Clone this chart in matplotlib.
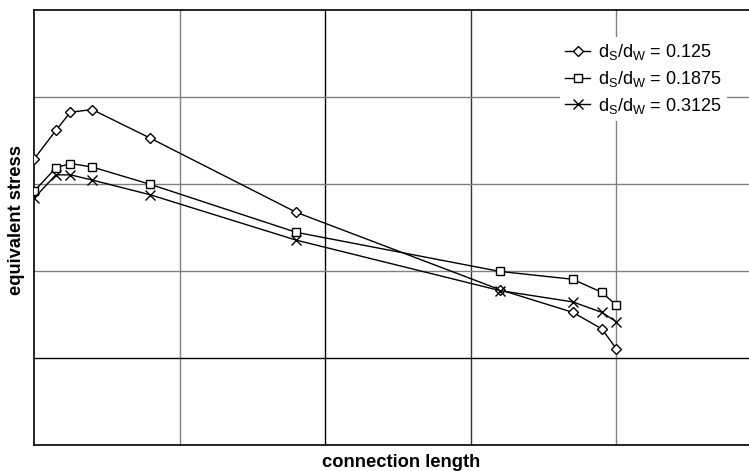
import matplotlib
matplotlib.use("Agg")
import matplotlib.pyplot as plt

plt.rcParams['font.family'] = ['Liberation Sans', 'DejaVu Sans']
plt.rcParams['mathtext.fontset'] = 'custom'
plt.rcParams['mathtext.rm'] = 'Liberation Sans'
plt.rcParams['mathtext.it'] = 'Liberation Sans'

# connection length (arbitrary units, grid every 1)
length = [0.0, 0.15, 0.25, 0.4, 0.8, 1.8, 3.2, 3.7, 3.9, 4.0]

# equivalent stress (arbitrary units)
stress_0125 = [3.28, 3.61, 3.82, 3.85, 3.52, 2.67, 1.78, 1.52, 1.33, 1.10]
stress_01875 = [2.91, 3.18, 3.23, 3.19, 2.99, 2.44, 1.99, 1.90, 1.75, 1.60]
stress_03125 = [2.83, 3.10, 3.10, 3.04, 2.87, 2.35, 1.77, 1.64, 1.52, 1.41]

labels = [r'd$_\mathrm{S}$/d$_\mathrm{W}$ = 0.125',
          r'd$_\mathrm{S}$/d$_\mathrm{W}$ = 0.1875',
          r'd$_\mathrm{S}$/d$_\mathrm{W}$ = 0.3125']

W, H = 749, 471
fig = plt.figure(figsize=(W / 100, H / 100), dpi=100)
ax = fig.add_axes([34 / W, (H - 444.6) / H, (762 - 34) / W, (444.6 - 9.5) / H])

ax.plot(length, stress_0125, color='black', lw=1, marker='D', ms=5,
        mfc='white', mec='black', mew=1, label=labels[0], zorder=3)
ax.plot(length, stress_01875, color='black', lw=1, marker='s', ms=6,
        mfc='white', mec='black', mew=1, label=labels[1], zorder=3)
ax.plot(length, stress_03125, color='black', lw=1, marker='x', ms=7,
        mec='black', mew=1, label=labels[2], zorder=3)

ax.set_xlim(0, 5)
ax.set_ylim(0, 5)
ax.set_xticks([1, 2, 3, 4])
ax.set_yticks([1, 2, 3, 4])
ax.tick_params(length=0, labelbottom=False, labelleft=False)
ax.grid(True, lw=1)
xcols = ['0.5', 'black', '0.2', '0.5']
ycols = ['black', '0.5', '0.5', '0.5']
for gl, c in zip(ax.get_xgridlines(), xcols):
    gl.set_color(c)
for gl, c in zip(ax.get_ygridlines(), ycols):
    gl.set_color(c)
for s in ax.spines.values():
    s.set_linewidth(1.2)

ax.set_xlabel('connection length', fontsize=13.2, fontweight='bold')
ax.set_ylabel('equivalent stress', fontsize=13.2, fontweight='bold')
ax.xaxis.set_label_coords(0.504, -0.022)
ax.yaxis.set_label_coords(-0.012, 0.516)

leg = ax.legend(loc='upper left', bbox_to_anchor=(560 / W, 1 - 37 / H),
                bbox_transform=fig.transFigure, fontsize=13, frameon=True,
                fancybox=False, edgecolor='none', facecolor='white', framealpha=1,
                handlelength=1.35, handletextpad=0.45, labelspacing=0.37,
                borderpad=0.3, borderaxespad=0)
leg.set_zorder(5)

fig.savefig('out.png', dpi=100)
